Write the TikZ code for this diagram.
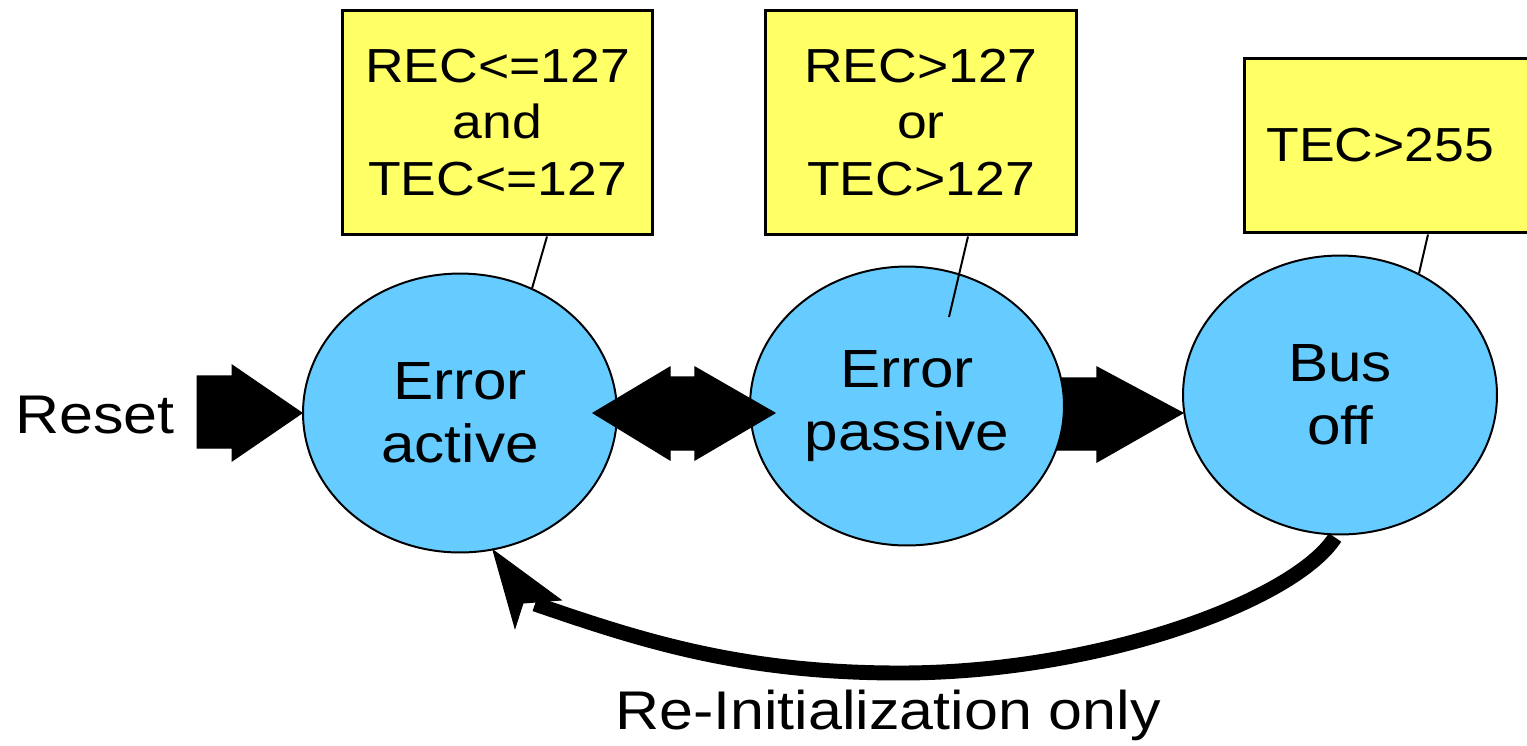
\documentclass[tikz,border=0pt]{standalone}
\usepackage{fontspec}
\setmainfont[FakeStretch=1.12]{Liberation Sans}
\usetikzlibrary{shapes.geometric,calc}
\definecolor{stateblue}{HTML}{66CCFF}
\definecolor{condyellow}{HTML}{FFFF66}
\tikzset{
  statenode/.style={ellipse, draw=black, line width=1.13pt, fill=stateblue,
    minimum width=6.28cm, minimum height=5.58cm, inner sep=0pt, align=center,
    font=\fontsize{30.6}{35.7}\selectfont},
  condbox/.style={rectangle, draw=black, line width=1.7pt, fill=condyellow,
    minimum width=6.22cm, minimum height=4.5cm, inner sep=0pt, align=center,
    font=\fontsize{27.2}{32.3}\selectfont},
  tagline/.style={draw=black, line width=1.13pt},
  bigtext/.style={inner sep=0pt, font=\fontsize{31}{36}\selectfont},
  blockarrow/.style={fill=black, draw=black, line width=0.6pt, line join=miter},
  returnline/.style={draw=black, line width=8.5pt}
}
\begin{document}
\begin{tikzpicture}[x=0.02cm, y=-0.02cm]
\useasboundingbox (0,0) rectangle (1527,745);

% condition boxes
\node[condbox] (c1) at (497.5,122.5) {REC<=127\\and\\TEC<=127};
\node[condbox] (c2) at (921,122.5) {REC>127\\or\\TEC>127};
\node[condbox, anchor=west, minimum width=0pt, minimum height=3.5cm,
      text width=5.2cm, align=left, inner xsep=0.44cm] (c3) at (1243,145.5) {TEC>255};

% block arrow between the passive and bus-off states (behind the ellipses)
\coordinate (pbTip) at (1183,413);
\fill[blockarrow] (pbTip) -- ++(-86,-46) -- ++(0,11) -- ++(-60,0)
  -- ++(0,72) -- ++(60,0) -- ++(0,12) -- cycle;

% states
\node[statenode] (ea) at (460,413) {Error\\active};
\node[statenode] (ep) at (907,406) {Error\\passive};
\node[statenode] (bo) at (1340,395) {Bus\\off};

% box tags
\draw[tagline] ($(c1.south)+(49.5,0)$) -- (ea.60);
\draw[tagline] ($(c2.south)+(47,0)$) -- ($(ep.center)+(42,-89)$);
\draw[tagline] ($(c3.south west)+(185,0)$) -- (bo.57);

% reset entry
\node[bigtext, anchor=base west] (reset) at (15,433) {Reset};
\fill[blockarrow] (ea.west) -- ++(-70,-48) -- ++(0,11) -- ++(-35,0)
  -- ++(0,72) -- ++(35,0) -- ++(0,13) -- cycle;

% two-way arrow between active and passive
\coordinate (apL) at (593,413);
\coordinate (apR) at (775,413);
\fill[blockarrow] (apL) -- ++(77,-46) -- ++(0,10) -- ++(25,0) -- ++(0,-10)
  -- (apR) -- ++(-80,47) -- ++(0,-10) -- ++(-25,0) -- ++(0,10) -- cycle;

% return path after re-initialization
\coordinate (reTip) at (493,550);
\draw[returnline] ($(bo.south)+(-5,2)$) .. controls (1295,600) and (1100,673) .. (900,673)
  .. controls (740,673) and (640,640) .. (535,604);
\fill[blockarrow] (reTip) -- (515,628) -- (523,603) -- (561,600) -- cycle;
\node[bigtext, anchor=base] (reinit) at (888,729) {Re-Initialization only};
\end{tikzpicture}
\end{document}
